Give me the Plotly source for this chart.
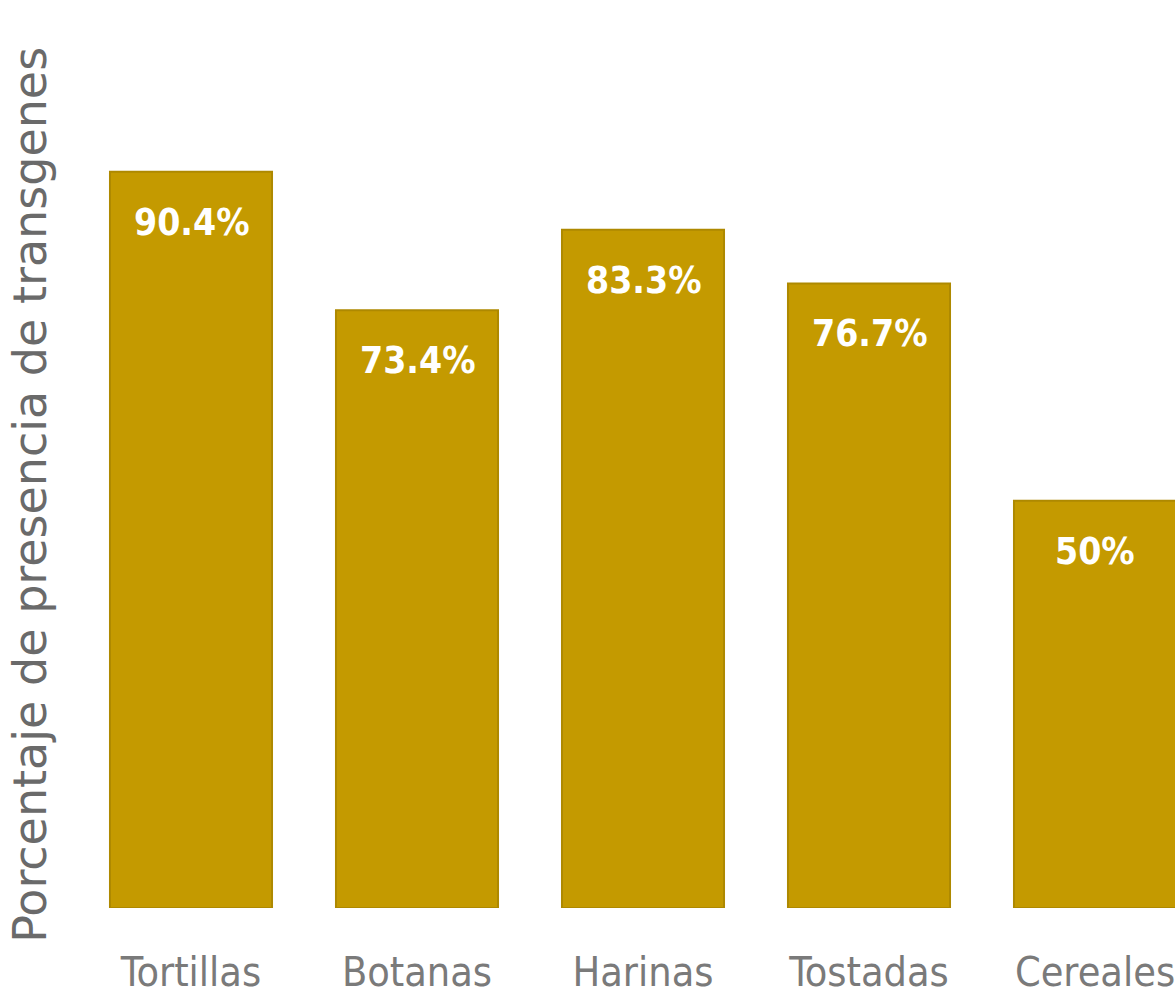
import plotly.graph_objects as go

categories = ["Tortillas", "Botanas", "Harinas", "Tostadas", "Cereales"]
values = [90.4, 73.4, 83.3, 76.7, 50]
value_labels = ["90.4%", "73.4%", "83.3%", "76.7%", "50%"]
y_title = "Porcentaje de presencia de transgenes"

bar_color = "#C49A00"
narrow = "Liberation Sans Narrow, DejaVu Sans Condensed, Arial Narrow, sans-serif"

fig = go.Figure()
fig.add_trace(go.Bar(
    x=categories, y=values,
    marker=dict(color=bar_color, line=dict(color="#AE8900", width=2)),
    width=0.717,
    hoverinfo="skip",
))

for c, v, t in zip(categories, values, value_labels):
    fig.add_annotation(x=c, y=v, text="<b>%s</b>" % t, showarrow=False,
                       yanchor="top", yshift=-27,
                       font=dict(family=narrow, size=37, color="#FFFFFF"))

fig.add_annotation(xref="paper", yref="paper", x=-0.0438, y=0.455,
                   text=y_title, textangle=-90, showarrow=False,
                   xanchor="center", yanchor="middle",
                   font=dict(family="DejaVu Sans, sans-serif", size=46, color="#6A6A6A"))

fig.update_layout(
    width=1175, height=996,
    margin=dict(l=78, r=0, t=0, b=88),
    paper_bgcolor="white", plot_bgcolor="white",
    showlegend=False,
    xaxis=dict(range=[-0.5, 4.354], showgrid=False, zeroline=False, showline=False,
               ticks="", ticklabelstandoff=36, automargin=False,
               tickfont=dict(family=narrow, size=41, color="#7A7A7A")),
    yaxis=dict(range=[0, 111.5], showgrid=False, zeroline=False, showline=False,
               showticklabels=False, fixedrange=True, automargin=False),
)

fig.write_html("out.html")
